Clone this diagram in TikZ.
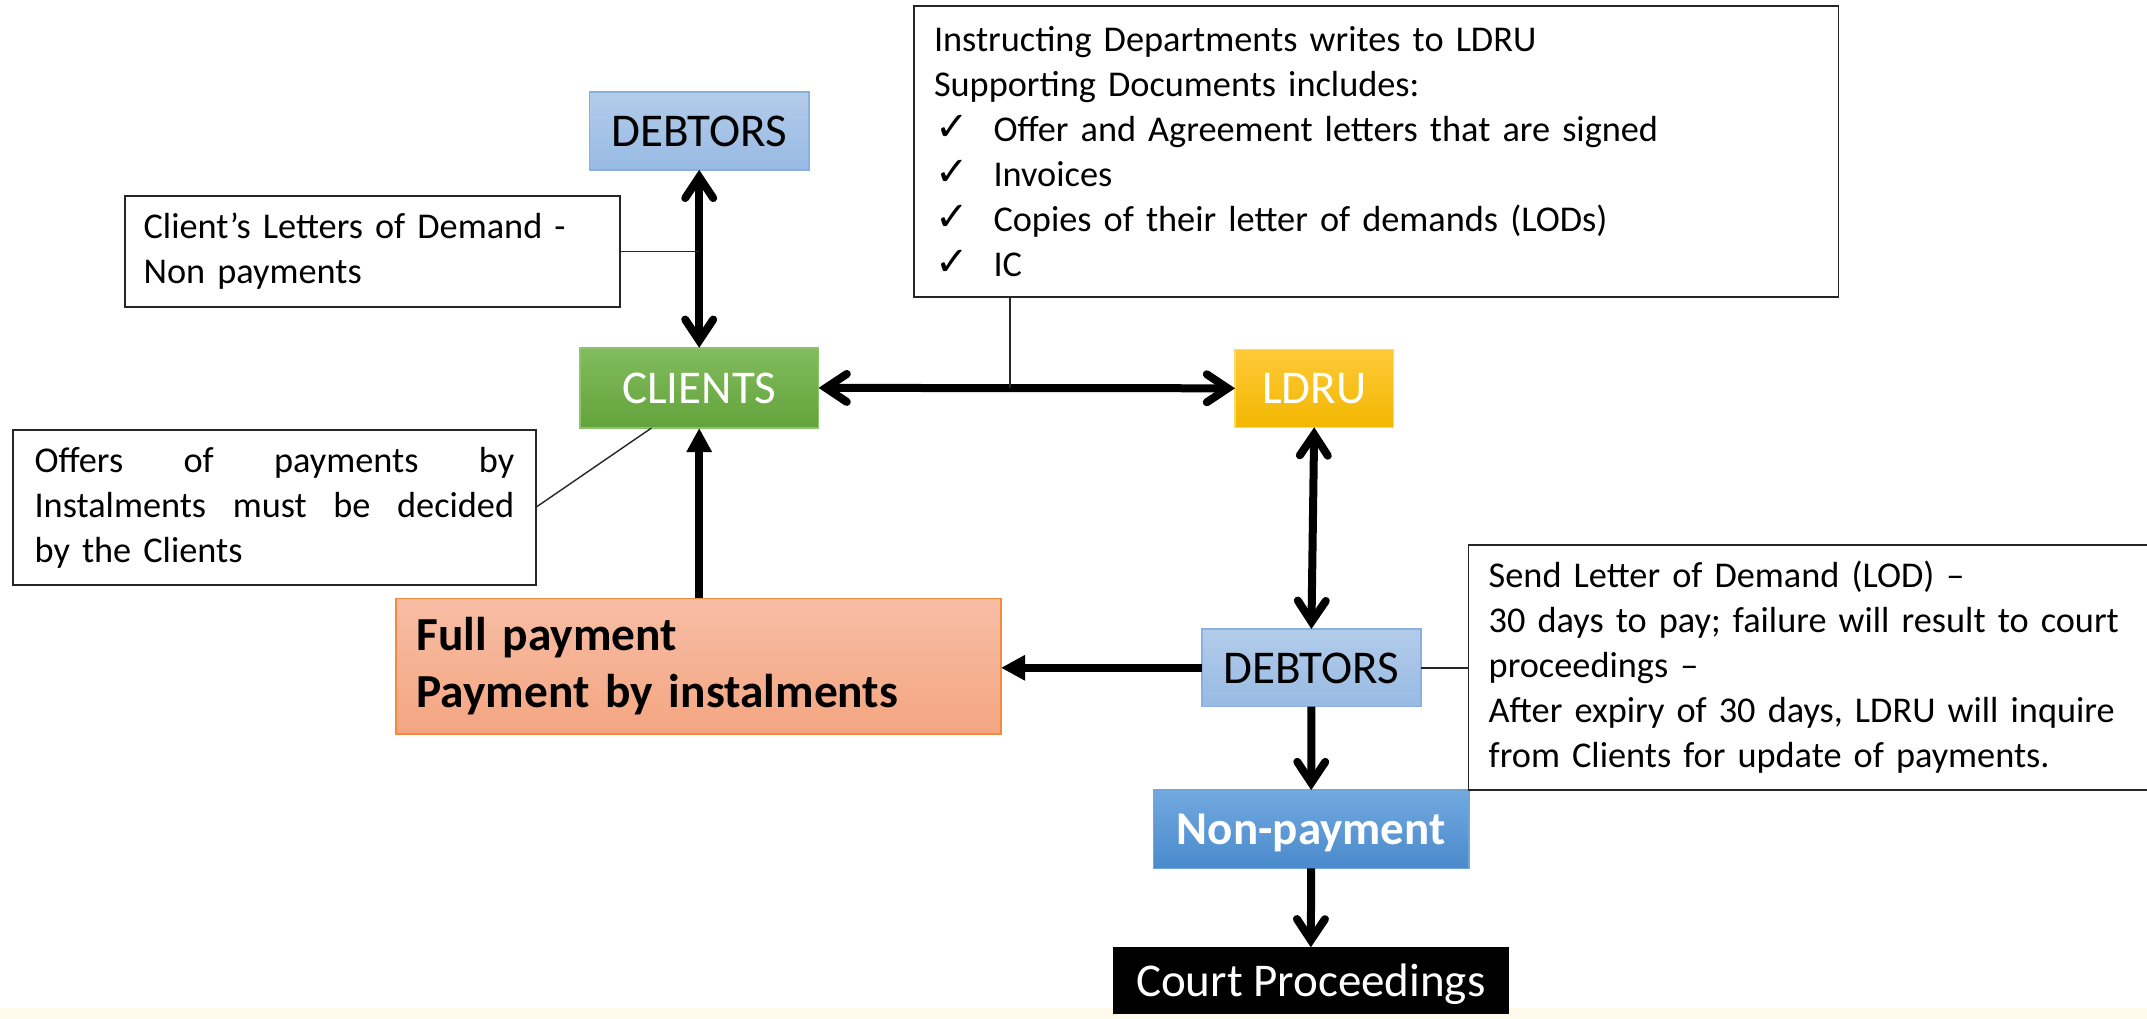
\documentclass[tikz,border=0pt]{standalone}
\usepackage{fontspec}
\setmainfont{Carlito}
\newfontfamily\symfont{DejaVu Sans}
\usetikzlibrary{arrows.meta,calc}

\definecolor{debtop}{HTML}{B3CCEA}
\definecolor{debbot}{HTML}{97BAE3}
\definecolor{debline}{HTML}{8AB0DF}
\definecolor{clitop}{HTML}{82BC5E}
\definecolor{clibot}{HTML}{63A33B}
\definecolor{cliline}{HTML}{8EC46C}
\definecolor{ldrutop}{HTML}{FFCA38}
\definecolor{ldrubot}{HTML}{F1B700}
\definecolor{ldruline}{HTML}{FFD966}
\definecolor{paytop}{HTML}{F7BEA5}
\definecolor{paybot}{HTML}{F4A581}
\definecolor{payline}{HTML}{F58A3A}
\definecolor{nontop}{HTML}{72A9E0}
\definecolor{nonbot}{HTML}{4A8ACC}
\definecolor{nonline}{HTML}{6FA6DC}
\definecolor{stripcol}{HTML}{FEF9EA}

% check mark column for the document list
\newcommand{\chk}{\makebox[59.5pt][l]{\hspace{1pt}\raisebox{1pt}{\symfont\fontsize{40}{45}\selectfont ✓}}}
% a line spread over the full text width
\newcommand{\fullline}[1]{\makebox[479.6pt][s]{#1}}

\begin{document}
\begin{tikzpicture}[x=1pt,y=-1pt,
  every node/.style={inner sep=0pt, outer sep=0pt},
  keybox/.style={rectangle, draw, line width=1.5pt,
    font=\fontsize{47}{57}\selectfont, text depth=0pt},
  notebox/.style={rectangle, draw=black!85, line width=1.8pt,
    font=\fontsize{36.3}{45}\selectfont, align=left, anchor=north west},
  link/.style={line width=1.4pt, black!85},
  flow/.style={line width=8pt},
  openhead/.tip={Straight Barb[length=21pt,width=28pt,line cap=round,line join=miter]},
  solidhead/.tip={Triangle[length=24pt,width=24pt]},
]
\clip (0,0) rectangle (2147,1019);
\fill[white] (0,0) rectangle (2147,1019);
\fill[stripcol] (0,1008) rectangle (2147,1019);

% main process boxes
\node[keybox, draw=debline, top color=debtop, bottom color=debbot,
  minimum width=219.2pt, minimum height=77.7pt] (deb1) at (699.2,131) {DEBTORS};
\node[keybox, draw=cliline, top color=clitop, bottom color=clibot, text=white,
  minimum width=238.8pt, minimum height=80.3pt] (cli) at (699.2,387.9) {CLIENTS};
\node[keybox, draw=ldruline, top color=ldrutop, bottom color=ldrubot, text=white,
  minimum width=158.4pt, minimum height=78pt] (ldru) at (1314.2,388.3) {LDRU};
\node[keybox, draw=debline, top color=debtop, bottom color=debbot,
  minimum width=218.9pt, minimum height=77.7pt] (deb2) at (1311.4,667.8) {DEBTORS};
\node[keybox, draw=nonline, top color=nontop, bottom color=nonbot, text=white,
  font=\fontsize{47}{57}\selectfont\bfseries,
  minimum width=315.7pt, minimum height=78.3pt] (non) at (1311.2,829.2) {Non-payment};
\node[keybox, draw=black, fill=black, text=white, anchor=north,
  minimum width=395pt, minimum height=66pt] (court) at (1310.8,947.3) {Court Proceedings};
\node[rectangle, draw=payline, line width=1.5pt, top color=paytop, bottom color=paybot,
  anchor=north west, align=left, inner xsep=20.5pt,
  font=\fontsize{47.4}{57}\selectfont\bfseries,
  text width=564pt, minimum width=605pt, minimum height=135.7pt] (full) at (396,598.3)
  {Full payment\\Payment by instalments};

% notes
\node[notebox, inner xsep=19pt, text width=457.4pt,
  minimum width=495.4pt, minimum height=110.4pt] (letters) at (124.6,196.3)
  {Client’s Letters of Demand -\\Non payments};
\node[notebox, inner xsep=21.4pt, text width=479.6pt,
  minimum width=522.4pt, minimum height=155pt] (offers) at (13.2,430)
  {\fullline{Offers\hfill of\hfill payments\hfill by}\\
   \fullline{Instalments\hfill must\hfill be\hfill decided}\\
   by the Clients};
\node[notebox, inner xsep=20.2pt, text width=884.3pt,
  minimum width=924.7pt, minimum height=291pt] (instr) at (913.8,5.7)
  {Instructing Departments writes to LDRU\\
   Supporting Documents includes:\\
   \chk Offer and Agreement letters that are signed\\
   \chk Invoices\\
   \chk Copies of their letter of demands (LODs)\\
   \chk IC};
\node[notebox, inner xsep=20.3pt, text width=651pt,
  minimum width=691.6pt, minimum height=245pt] (send) at (1468.4,545)
  {Send Letter of Demand (LOD) –\\
   30 days to pay; failure will result to court\\
   proceedings –\\
   After expiry of 30 days, LDRU will inquire\\
   from Clients for update of payments.};

% flow arrows
\draw[flow, openhead-openhead] (deb1.south) -- (cli.north);
\draw[flow, openhead-openhead] (cli.east) -- (ldru.west);
\draw[flow, openhead-openhead] (ldru.south) -- (deb2.north);
\draw[flow, -openhead] (deb2.south) -- (non.north);
\draw[flow, -openhead] (non.south) -- (court.north);
\draw[flow, -solidhead] (deb2.west) -- (deb2.west -| full.east);
\draw[flow, -solidhead] (full.north -| cli.south) -- (cli.south);

% note leaders
\draw[link] (letters.east) -- (letters.east -| deb1.south);
\draw[link] (offers.east) -- ($(cli.south west)!0.3!(cli.south east)$);
\coordinate (instrfoot) at ($(instr.south west)+(96.2,0)$);
\draw[link] (instrfoot) -- (instrfoot |- cli.east);
\draw[link] (deb2.east) -- (deb2.east -| send.west);
\end{tikzpicture}
\end{document}
